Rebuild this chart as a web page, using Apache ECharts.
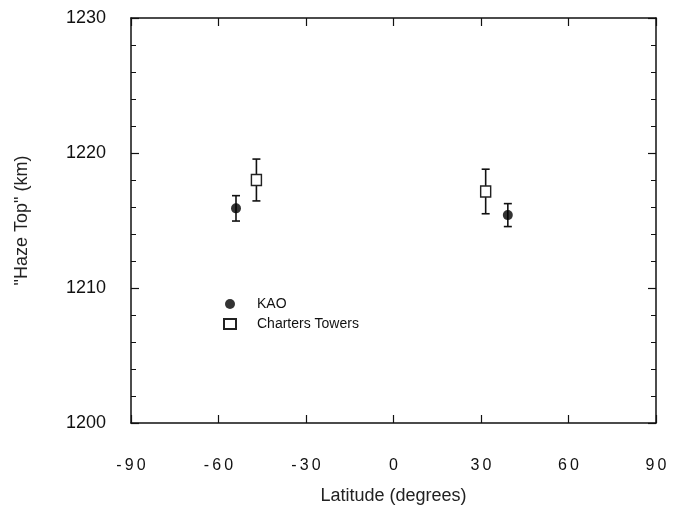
<!DOCTYPE html>
<html>
<head>
<meta charset="utf-8">
<script src="https://cdn.jsdelivr.net/npm/echarts@6/dist/echarts.min.js"></script>
<style>
html,body{margin:0;padding:0;background:#fff;}
#c{width:673px;height:508px;}
</style>
</head>
<body>
<div id="c"></div>
<script>
// Data
var kaoLat = [-54, 39.2];
var kaoTop = [1215.9, 1215.4];
var kaoErr = [0.94, 0.85];
var ctLat = [-47, 31.6];
var ctTop = [1218.0, 1217.15];
var ctErr = [1.55, 1.65];
var xTicks = [-90, -60, -30, 0, 30, 60, 90];
var yTicks = [1200, 1210, 1220, 1230];

function pts(lat, v){ return lat.map(function(l,i){ return [l, v[i]]; }); }
function errs(lat, v, e){ return lat.map(function(l,i){ return [l, v[i]-e[i], v[i]+e[i]]; }); }

function errRender(params, api){
  var x = api.value(0);
  var lo = api.coord([x, api.value(1)]);
  var hi = api.coord([x, api.value(2)]);
  var w = 4;
  var st = {stroke:'#111', lineWidth:1.6};
  return {type:'group', children:[
    {type:'line', shape:{x1:lo[0],y1:lo[1],x2:hi[0],y2:hi[1]}, style:st},
    {type:'line', shape:{x1:lo[0]-w,y1:lo[1],x2:lo[0]+w,y2:lo[1]}, style:st},
    {type:'line', shape:{x1:hi[0]-w,y1:hi[1],x2:hi[0]+w,y2:hi[1]}, style:st}
  ]};
}

var font = 'Liberation Sans, Arial, Helvetica, sans-serif';
var axLine = {show:true, onZero:false, lineStyle:{color:'#111', width:1.5}};
var tick = {show:true, inside:true, length:8, lineStyle:{color:'#111', width:1.2}};
var minor = {show:true, splitNumber:5, length:5, lineStyle:{color:'#111', width:1}};

var chart = echarts.init(document.getElementById('c'), null, {renderer:'canvas'});
chart.setOption({
  backgroundColor:'#fff',
  animation:false,
  grid:{left:131, right:17, top:18, bottom:85, containLabel:false, outerBoundsMode:'none'},
  legend:{
    orient:'vertical', left:218, top:292, itemGap:6, itemWidth:12, itemHeight:10,
    textStyle:{fontFamily:font, fontSize:14, color:'#111', padding:[0,0,0,16]},
    data:[{name:'KAO'},{name:'Charters Towers'}]
  },
  xAxis:[{
    type:'value', min:-90, max:90, interval:30, position:'bottom',
    name:'Latitude (degrees)', nameLocation:'middle', nameGap:64,
    nameTextStyle:{fontFamily:font, fontSize:18, color:'#222'},
    axisLine:axLine, axisTick:tick,
    axisLabel:{margin:35, fontFamily:font, fontSize:16, color:'#111',
      formatter:function(v){ return String(v).split('').join('\u2009'); }},
    splitLine:{show:false}
  },{
    type:'value', min:-90, max:90, interval:30, position:'top',
    axisLine:axLine, axisTick:tick,
    axisLabel:{show:false}, splitLine:{show:false}
  }],
  yAxis:[{
    type:'value', min:1200, max:1230, interval:10, position:'left',
    name:'"Haze Top" (km)', nameLocation:'middle', nameGap:100, nameRotate:90,
    nameTextStyle:{fontFamily:font, fontSize:18, color:'#222'},
    axisLine:axLine, axisTick:tick, minorTick:minor,
    axisLabel:{margin:25, fontFamily:font, fontSize:18, color:'#111',
      formatter:function(v){ return String(v); }},
    splitLine:{show:false}
  },{
    type:'value', min:1200, max:1230, interval:10, position:'right',
    axisLine:axLine, axisTick:tick, minorTick:minor,
    axisLabel:{show:false}, splitLine:{show:false}
  }],
  series:[
    {type:'custom', name:'kaoErr', renderItem:errRender, data:errs(kaoLat,kaoTop,kaoErr), z:2, silent:true},
    {type:'custom', name:'ctErr', renderItem:errRender, data:errs(ctLat,ctTop,ctErr), z:2, silent:true},
    {type:'scatter', name:'KAO', data:pts(kaoLat,kaoTop), symbol:'circle', symbolSize:10,
      itemStyle:{color:'#000'}, z:3},
    {type:'scatter', name:'Charters Towers', data:pts(ctLat,ctTop), symbol:'rect', symbolSize:[10,11],
      itemStyle:{color:'#fff', borderColor:'#222', borderWidth:1.5, opacity:1}, z:3}
  ]
});
</script>
</body>
</html>
